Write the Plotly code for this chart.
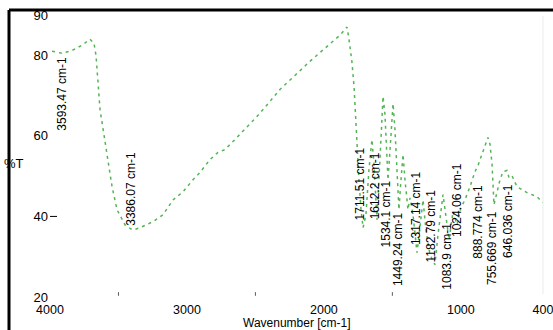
import plotly.graph_objects as go

# Spectrum (wavenumber in cm-1, transmittance in %T)
wavenumber = [3985, 3912, 3839, 3766, 3708, 3679, 3664, 3650, 3635, 3606, 3584, 3547,
              3511, 3452, 3401, 3387, 3343, 3248, 3175, 3102, 3029, 2956, 2905, 2832,
              2773, 2722, 2649, 2467, 2321, 2102, 1882, 1831, 1817, 1795, 1780, 1766,
              1758, 1744, 1729, 1714, 1693, 1671, 1649, 1634, 1612, 1598, 1583, 1568,
              1554, 1539, 1532, 1517, 1495, 1481, 1466, 1452, 1437, 1422, 1408, 1386,
              1371, 1349, 1320, 1298, 1276, 1255, 1225, 1189, 1167, 1130, 1108, 1086,
              1057, 1028, 999, 970, 933, 897, 875, 838, 802, 787, 772, 758, 736, 714,
              692, 663, 648, 626, 590, 517, 444, 400]
transmittance = [81.0, 80.5, 81.2, 82.5, 84.0, 83.0, 80.0, 74.0, 66.6, 60.3, 55.9, 47.4,
                 41.7, 37.9, 36.7, 36.7, 37.2, 38.7, 40.4, 44.1, 46.1, 49.1, 50.9, 54.1,
                 55.9, 56.6, 59.1, 65.6, 71.5, 78.5, 85.0, 87.0, 84.0, 78.3, 72.3, 62.8,
                 56.6, 49.1, 41.7, 37.2, 40.4, 51.6, 59.1, 52.9, 39.2, 49.1, 61.6, 69.8,
                 65.3, 52.9, 49.1, 56.6, 68.0, 61.6, 50.4, 41.7, 49.1, 55.4, 49.1, 41.7,
                 44.6, 40.4, 31.0, 37.9, 44.1, 36.7, 30.5, 28.0, 35.4, 45.4, 40.4, 34.2,
                 41.2, 37.9, 42.2, 44.1, 47.4, 51.1, 52.6, 55.9, 59.6, 57.9, 52.9, 42.9,
                 45.9, 49.1, 51.1, 51.4, 49.6, 50.1, 47.4, 45.9, 44.9, 43.4]

# Peak labels: text, anchor wavenumber, anchor %T (bottom of the rotated text)
peak_labels = ["3593.47 cm-1", "3386.07 cm-1", "1711.51 cm-1", "1612.2 cm-1",
               "1534.1 cm-1", "1449.24 cm-1", "1317.14 cm-1", "1182.79 cm-1",
               "1083.9 cm-1", "1024.06 cm-1", "888.774 cm-1", "755.669 cm-1",
               "646.036 cm-1"]
label_wn = [3912, 3408, 1736, 1627, 1546, 1459, 1327, 1218, 1101, 1028, 875, 772, 656]
label_t = [60.8, 37.2, 38.4, 38.9, 31.7, 22.2, 32.4, 28.2, 21.2, 34.4, 29.0, 22.5, 29.2]

x_ticks = [4000, 3000, 2000, 1000, 400]
y_ticks = [20, 40, 60, 80, 90]
minor_x_ticks = [3500, 2500, 1500]

FONT = "Liberation Sans, Arial, sans-serif"

fig = go.Figure()
fig.add_trace(go.Scatter(
    x=wavenumber, y=transmittance, mode="lines",
    line=dict(color="rgb(85,180,85)", width=1.5, dash="3px,4px"),
    hoverinfo="skip", showlegend=False))

for txt, wx, ty in zip(peak_labels, label_wn, label_t):
    fig.add_annotation(x=wx, y=ty, xref="x", yref="y", text=txt, showarrow=False,
                       textangle=-90, xanchor="center", yanchor="bottom",
                       font=dict(family=FONT, size=12, color="black"))

# y-axis title "%T" (horizontal, at far left)
fig.add_annotation(x=-48 / 493, y=1 - (163 - 15) / 282, xref="paper", yref="paper",
                   text="%T", showarrow=False, xanchor="left", yanchor="middle",
                   font=dict(family=FONT, size=13, color="black"))
# x-axis title
fig.add_annotation(x=0.5, y=-(322.5 - 297) / 282, xref="paper", yref="paper",
                   text="Wavenumber [cm-1]", showarrow=False, xanchor="center",
                   yanchor="middle", borderpad=0,
                   font=dict(family=FONT, size=12, color="black"))

# frame lines (black left/top, faint right)
fig.add_shape(type="line", xref="paper", yref="paper",
              x0=-41 / 493, x1=-41 / 493, y0=1 + 5 / 282, y1=-33 / 282,
              line=dict(color="black", width=3))
fig.add_shape(type="line", xref="paper", yref="paper",
              x0=-41 / 493, x1=1 + 10 / 493, y0=1 + 5 / 282, y1=1 + 5 / 282,
              line=dict(color="black", width=3))
fig.add_shape(type="line", xref="paper", yref="paper",
              x0=1, x1=1, y0=1 - 1 / 282, y1=0.01,
              line=dict(color="rgb(235,235,235)", width=1))
# tick at 40
fig.add_shape(type="line", xref="paper", yref="y",
              x0=0, x1=7 / 493, y0=40, y1=40, line=dict(color="black", width=1))
for m in minor_x_ticks:
    fig.add_shape(type="line", xref="x", yref="y", x0=m, x1=m, y0=20.3, y1=21.2,
                  line=dict(color="rgb(90,90,90)", width=1))

fig.update_layout(
    width=553, height=330,
    margin=dict(l=50, r=10, t=15, b=33, autoexpand=False),
    paper_bgcolor="white", plot_bgcolor="white",
    font=dict(family=FONT, size=13, color="black"),
    xaxis=dict(range=[4000, 400], tickvals=x_ticks, ticktext=[str(v) for v in x_ticks],
               showgrid=False, zeroline=False, showline=False, ticks="",
               automargin=False, tickfont=dict(size=12.5),
               ticklabelstandoff=3, ticklabeloverflow="allow"),
    yaxis=dict(range=[20, 90], tickvals=y_ticks, ticktext=[str(v) for v in y_ticks],
               showgrid=False, zeroline=False, showline=False, ticks="",
               automargin=False, ticklabelstandoff=1),
)

fig.write_html("out.html", config={"displayModeBar": False},
               post_script="document.body.style.margin='0px';document.body.style.overflow='hidden';")
